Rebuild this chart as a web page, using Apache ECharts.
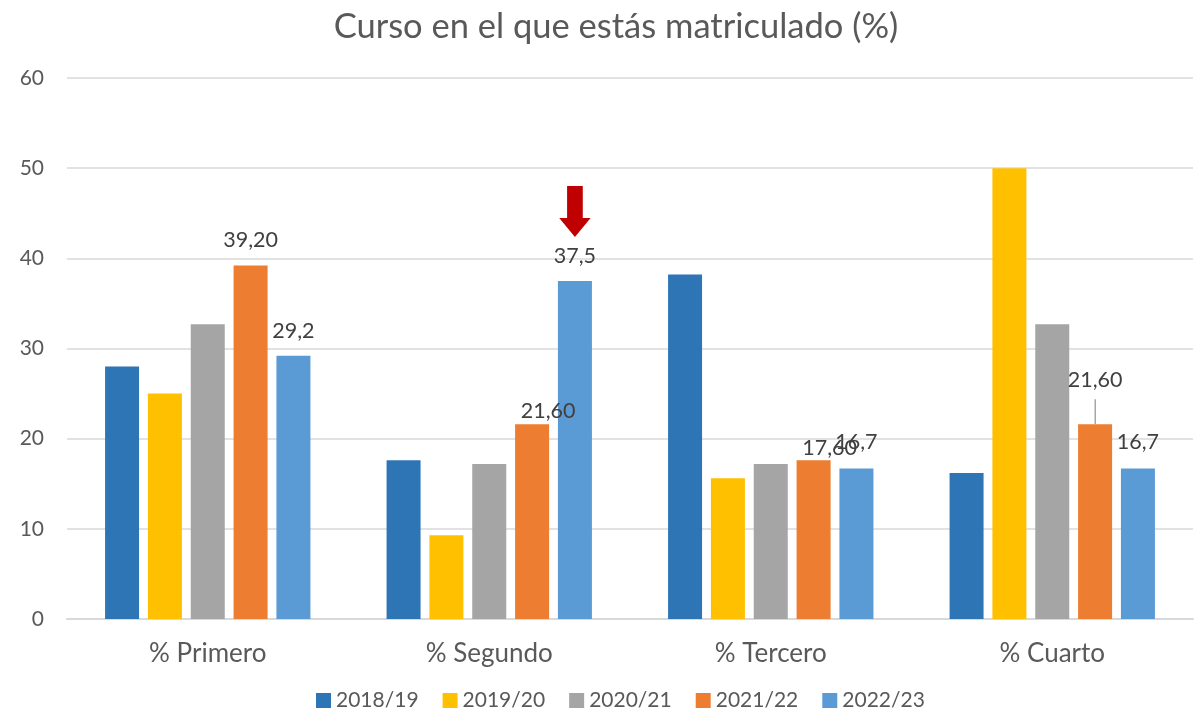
<!DOCTYPE html>
<html>
<head>
<meta charset="utf-8">
<script src="https://cdn.jsdelivr.net/npm/echarts@6/dist/echarts.min.js"></script>
<style>
  html, body { margin: 0; padding: 0; background: #fff; }
  #chart { width: 1195px; height: 721px; }
</style>
</head>
<body>
<div id="chart"></div>
<script>
const categories = ['% Primero', '% Segundo', '% Tercero', '% Cuarto']
const seriesNames = ['2018/19', '2019/20', '2020/21', '2021/22', '2022/23']
const colors = ['#2E75B6', '#FFC000', '#A5A5A5', '#ED7D31', '#5B9BD5']

const v1819 = [28.0, 17.6, 38.2, 16.2]
const v1920 = [25.0, 9.3, 15.6, 50.0]
const v2021 = [32.7, 17.2, 17.2, 32.7]
const v2122 = [39.2, 21.6, 17.6, 21.6]
const v2223 = [29.2, 37.5, 16.7, 16.7]

// etiquetas visibles
const l2122 = ['39,20', '21,60', '17,60', '21,60']
const l2223 = ['29,2', '37,5', '16,7', '16,7']

const arrowValue = 45.2

const values = [v1819, v1920, v2021, v2122, v2223]
const labels = [null, null, null, l2122, l2223]

// ajustes de posicion de etiquetas [distance, offsetX]
const labelPos = {
  '3-0': [14, 0], '3-1': [2, 16], '3-2': [1, 16], '3-3': [33, 0],
  '4-0': [14, 0], '4-1': [14, 0], '4-2': [15, 0], '4-3': [15, 0]
}

const textColor = '#595959'
const font = 'Lato, "Open Sans", sans-serif'

const chart = echarts.init(document.getElementById('chart'))

const series = values.map((vals, s) => {
  const data = vals.map((v, i) => {
    const lab = labels[s] && labels[s][i]
    if (!lab) return v
    const pos = labelPos[s + '-' + i]
    return {
      value: v,
      label: {
        show: true,
        position: 'top',
        distance: pos[0],
        offset: [pos[1], 0],
        formatter: lab,
        fontSize: 21.5,
        color: '#404040',
        fontFamily: font
      }
    }
  })
  const item = {
    name: seriesNames[s],
    type: 'bar',
    barWidth: 34,
    barGap: '26%',
    itemStyle: { color: colors[s] },
    data: data
  }
  if (s === 4) {
    // flecha roja sobre % Segundo 2022/23
    item.markPoint = {
      silent: true,
      symbol: 'path://M10,0 L30,0 L30,32 L40,32 L20,51 L0,32 L10,32 Z',
      symbolSize: [40, 51],
      symbolKeepAspect: true,
      itemStyle: { color: '#C00000' },
      label: { show: false },
      data: [{ coord: [categories[1], arrowValue] }]
    }
  }
  return item
})

chart.setOption({
  animation: false,
  backgroundColor: '#fff',
  title: {
    text: 'Curso en el que estás matriculado (%)',
    left: 611,
    textAlign: 'center',
    top: 4,
    textStyle: { fontSize: 34.5, fontWeight: 'normal', color: textColor, fontFamily: font }
  },
  legend: {
    bottom: 5,
    left: 311,
    itemWidth: 15,
    itemHeight: 15,
    itemGap: 24,
    icon: 'rect',
    textStyle: { fontSize: 21, color: textColor, fontFamily: font },
    data: seriesNames
  },
  grid: { left: 67, right: 2, top: 78, bottom: 102 },
  xAxis: {
    type: 'category',
    data: categories,
    axisLine: { lineStyle: { color: '#D9D9D9', width: 2 } },
    axisTick: { show: false },
    axisLabel: { fontSize: 26, color: textColor, margin: 22, fontFamily: font }
  },
  yAxis: {
    type: 'value',
    min: 0,
    max: 60,
    interval: 10,
    axisLine: { show: false },
    axisTick: { show: false },
    splitLine: { lineStyle: { color: '#D9D9D9', width: 1.5 } },
    axisLabel: { fontSize: 21, color: textColor, margin: 23, fontFamily: font }
  },
  series: series
})

// linea guia de la etiqueta desplazada en % Cuarto (2021/22)
const barTop = chart.convertToPixel({ gridIndex: 0 }, [categories[3], v2122[3]])
const gx = barTop[0] + 43
const gy = barTop[1]
chart.setOption({
  graphic: [{
    type: 'line',
    silent: true,
    shape: { x1: gx, y1: gy, x2: gx, y2: gy - 25 },
    style: { stroke: '#A6A6A6', lineWidth: 1.5 }
  }]
})
</script>
</body>
</html>
